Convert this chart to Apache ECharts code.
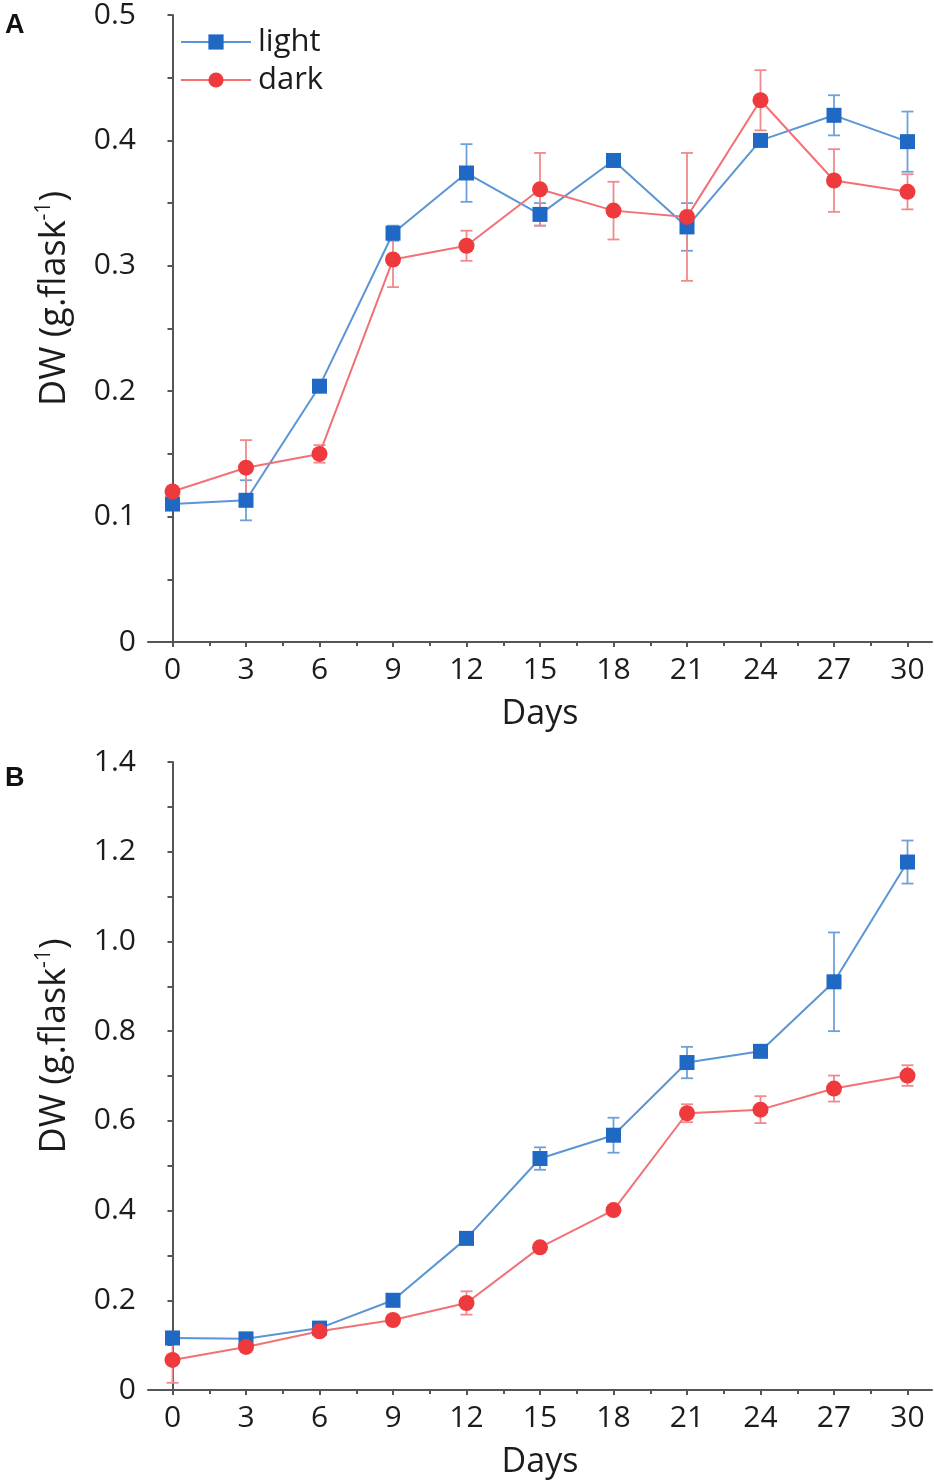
<!DOCTYPE html>
<html>
<head>
<meta charset="utf-8">
<script src="https://cdn.jsdelivr.net/npm/echarts@6/dist/echarts.min.js"></script>
<style>
  html, body { margin: 0; padding: 0; background: #fff; }
  #chart { width: 934px; height: 1480px; }
</style>
</head>
<body>
<div id="chart"></div>
<script>
// days sampled
var days = [0, 3, 6, 9, 12, 15, 18, 21, 24, 27, 30];
var dayTicks = [0, 3, 6, 9, 12, 15, 18, 21, 24, 27, 30];
var dayMinorTicks = [1.5, 4.5, 7.5, 10.5, 13.5, 16.5, 19.5, 22.5, 25.5, 28.5];

// panel A
var lightA    = [0.110, 0.113, 0.204, 0.326, 0.374, 0.341, 0.384, 0.331, 0.400, 0.420, 0.399];
var lightAErr = [0.003, 0.016, 0.003, 0.006, 0.023, 0.009, 0.003, 0.019, 0.005, 0.016, 0.024];
var darkA     = [0.120, 0.139, 0.150, 0.305, 0.316, 0.361, 0.344, 0.339, 0.432, 0.368, 0.359];
var darkAErr  = [0.004, 0.022, 0.007, 0.022, 0.012, 0.029, 0.023, 0.051, 0.024, 0.025, 0.014];

// panel B
var lightB    = [0.116, 0.114, 0.138, 0.200, 0.338, 0.516, 0.568, 0.730, 0.755, 0.910, 1.177];
var lightBErr = [0.010, 0.006, 0.010, 0.010, 0.008, 0.025, 0.039, 0.035, 0.008, 0.110, 0.048];
var darkB     = [0.067, 0.096, 0.131, 0.156, 0.194, 0.318, 0.401, 0.617, 0.625, 0.672, 0.701];
var darkBErr  = [0.051, 0.010, 0.010, 0.008, 0.026, 0.008, 0.008, 0.020, 0.030, 0.029, 0.023];

var BLUE = '#1f68c4', BLUE_LINE = '#5b95d6', BLUE_ERR = '#6fa0da';
var RED = '#ef3a3d', RED_LINE = '#f27175', RED_ERR = '#f08a8d';
var FONT = 'Open Sans';
var TEXT = '#1c1c1c';
var AXIS_COLOR = '#555';

function pairs(ys) {
    return days.map(function (d, i) { return [d, ys[i]]; });
}
function errData(ys, es) {
    return days.map(function (d, i) { return [d, ys[i] - es[i], ys[i] + es[i]]; });
}

function errorSeries(idx, ys, es, color) {
    return {
        type: 'custom',
        xAxisIndex: idx * 2,
        yAxisIndex: idx,
        z: 1,
        silent: true,
        data: errData(ys, es),
        renderItem: function (params, api) {
            var lo = api.coord([api.value(0), api.value(1)]);
            var hi = api.coord([api.value(0), api.value(2)]);
            var w = 6;
            var st = { stroke: color, lineWidth: 1.8 };
            return {
                type: 'group',
                children: [
                    { type: 'line', shape: { x1: lo[0], y1: lo[1], x2: hi[0], y2: hi[1] }, style: st },
                    { type: 'line', shape: { x1: hi[0] - w, y1: hi[1], x2: hi[0] + w, y2: hi[1] }, style: st },
                    { type: 'line', shape: { x1: lo[0] - w, y1: lo[1], x2: lo[0] + w, y2: lo[1] }, style: st }
                ]
            };
        }
    };
}

function lineSeries(idx, name, ys, symbol, size, color, lineColor) {
    return {
        name: name,
        type: 'line',
        xAxisIndex: idx * 2,
        yAxisIndex: idx,
        z: 3,
        data: pairs(ys),
        symbol: symbol,
        symbolSize: size,
        itemStyle: { color: color },
        lineStyle: { color: lineColor, width: 2 },
        emphasis: { disabled: true }
    };
}

function xAxes(gridIdx) {
    return [{
        type: 'value', gridIndex: gridIdx, min: -1, max: 31, position: 'bottom',
        name: 'Days', nameLocation: 'middle', nameGap: 55,
        nameTextStyle: { fontFamily: FONT, fontSize: 34, color: TEXT },
        axisLine: { lineStyle: { color: AXIS_COLOR, width: 2 } },
        axisTick: { customValues: dayTicks, length: 5, lineStyle: { color: AXIS_COLOR, width: 2 } },
        axisLabel: { customValues: dayTicks, fontFamily: FONT, fontSize: 30, color: TEXT, margin: 13 },
        splitLine: { show: false }
    }, {
        type: 'value', gridIndex: gridIdx, min: -1, max: 31, position: 'bottom',
        axisLine: { show: false },
        axisTick: { customValues: dayMinorTicks, length: 4, lineStyle: { color: AXIS_COLOR, width: 2 } },
        axisLabel: { show: false },
        splitLine: { show: false }
    }];
}

function yAxis(gridIdx, max, step, labelStep) {
    return {
        type: 'value', gridIndex: gridIdx, min: 0, max: max, interval: step,
        name: 'DW (g.flask{sup|-1})', nameLocation: 'middle', nameGap: 72, nameRotate: 90,
        nameTextStyle: {
            fontFamily: FONT, fontSize: 36, color: TEXT, lineHeight: 42,
            padding: [0, 0, 0, 60],
            rich: { sup: { fontFamily: FONT, fontSize: 21, color: TEXT, verticalAlign: 'top', lineHeight: 42, padding: [0, 0, 15, 0] } }
        },
        axisLine: { show: true, lineStyle: { color: AXIS_COLOR, width: 2 } },
        axisTick: { show: true, length: 5, lineStyle: { color: AXIS_COLOR, width: 2 } },
        axisLabel: {
            fontFamily: FONT, fontSize: 30, color: TEXT, margin: 12,
            formatter: function (v) {
                var k = v / labelStep;
                if (Math.abs(k - Math.round(k)) > 1e-6) return '';
                if (Math.abs(v) < 1e-9) return '0';
                return v.toFixed(1);
            }
        },
        splitLine: { show: false }
    };
}

var chart = echarts.init(document.getElementById('chart'));
var option = {
    backgroundColor: '#fff',
    animation: false,
    title: [
        { text: 'A', left: 0, top: 7, textStyle: { fontFamily: 'Liberation Sans', fontWeight: 'bold', fontSize: 27, color: '#111' } },
        { text: 'B', left: 0, top: 760, textStyle: { fontFamily: 'Liberation Sans', fontWeight: 'bold', fontSize: 27, color: '#111' } }
    ],
    legend: {
        data: ['light', 'dark'],
        orient: 'vertical',
        left: 175, top: 21,
        itemWidth: 70, itemHeight: 19, itemGap: 6,
        textStyle: { fontFamily: FONT, fontSize: 31, color: TEXT, lineHeight: 32, padding: [0, 0, 0, 2] }
    },
    grid: [
        { left: 148, top: 13, width: 784, height: 629 },
        { left: 148, top: 762, width: 784, height: 629 }
    ],
    xAxis: xAxes(0).concat(xAxes(1)),
    yAxis: [yAxis(0, 0.5, 0.05, 0.1), yAxis(1, 1.4, 0.1, 0.2)],
    series: [
        errorSeries(0, lightA, lightAErr, BLUE_ERR),
        errorSeries(0, darkA, darkAErr, RED_ERR),
        lineSeries(0, 'light', lightA, 'rect', 15, BLUE, BLUE_LINE),
        lineSeries(0, 'dark', darkA, 'circle', 16, RED, RED_LINE),
        errorSeries(1, lightB, lightBErr, BLUE_ERR),
        errorSeries(1, darkB, darkBErr, RED_ERR),
        lineSeries(1, 'light', lightB, 'rect', 15, BLUE, BLUE_LINE),
        lineSeries(1, 'dark', darkB, 'circle', 16, RED, RED_LINE)
    ]
};
chart.setOption(option);
</script>
</body>
</html>
